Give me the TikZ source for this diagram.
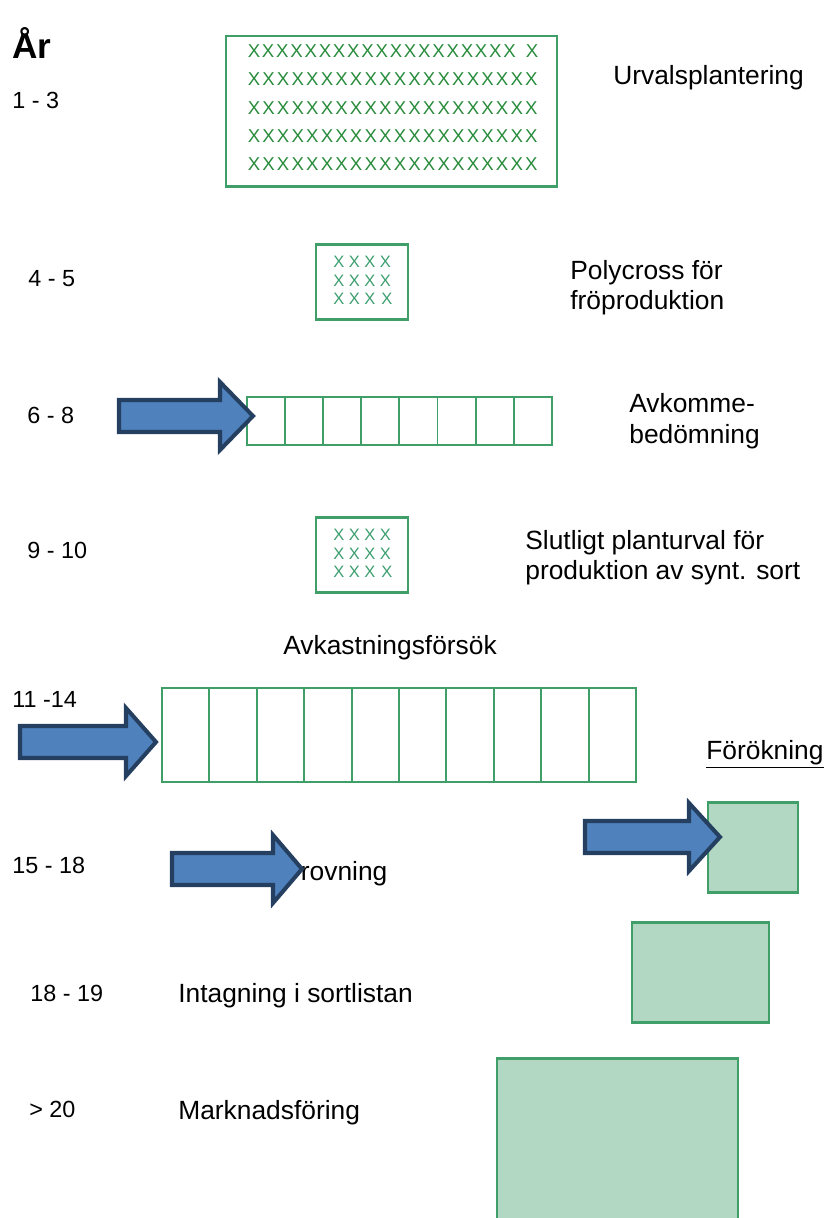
\documentclass[tikz,border=0pt]{standalone}
\usepackage{fontspec}
\setmainfont{Liberation Sans}
\usetikzlibrary{positioning}
\definecolor{boxgreen}{RGB}{64,158,104}
\definecolor{xgreen}{RGB}{40,140,60}
\definecolor{lightx}{RGB}{60,158,110}
\definecolor{plotfill}{RGB}{178,216,196}
\definecolor{arrowblue}{RGB}{79,129,189}
\definecolor{arrowline}{RGB}{36,63,96}
\tikzset{yearlbl/.style={font=\fontsize{13.3}{16}\selectfont,anchor=base west,inner sep=0pt},
	 desc/.style={font=\fontsize{15}{18}\selectfont,anchor=base west,inner sep=0pt},
	 plot/.style={draw=boxgreen,line width=1.7pt},
	 cell/.style={draw=boxgreen,line width=1.1pt},
	 bigx/.style={text=xgreen,font=\fontsize{10.6}{11}\selectfont,inner sep=0pt},
	 smallx/.style={text=lightx,font=\fontsize{9.4}{10}\selectfont,inner sep=0pt},
	 bluearrow/.style={draw=arrowline,fill=arrowblue,line width=2.3pt,line join=miter}
	 }
% block arrow: tail x, tip x, tip y, head base x
\newcommand{\bigarrow}[4]{%
  \draw[bluearrow] (#1,#3-16) -- (#4,#3-16) -- (#4,#3-34) -- (#2,#3)
    -- (#4,#3+34) -- (#4,#3+16) -- (#1,#3+16) -- cycle;}

\begin{document}
\begin{tikzpicture}[x=0.02cm,y=-0.02cm] % breeding scheme
	\useasboundingbox (0,0) rectangle (825,1218);
	\node[anchor=base west,inner sep=0pt,font=\fontsize{20}{24}\selectfont\bfseries] (ar) at (12,58) {År};
	% year labels
	\node[yearlbl] (y1) at (12,108) {1 - 3};
	\node[yearlbl] (y2) at (28,286) {4 - 5};
	\node[yearlbl] (y3) at (27,423) {6 - 8};
	\node[yearlbl] (y4) at (27,558) {9 - 10};
	\node[yearlbl] (y5) at (12,707) {11 -14};
	\node[yearlbl] (y6) at (12,873) {15 - 18};
	\node[yearlbl] (y7) at (30,1001) {18 - 19};
	\node[yearlbl] (y8) at (29,1117) {> 20};
	% descriptions
	\node[desc] (urval) at (613,84) {Urvalsplantering};
	\node[desc] (polyA) at (570,279) {Polycross för};
	\node[desc] (polyB) at (570,309) {fröproduktion};
	\node[desc] (avkA) at (629,412) {Avkomme-};
	\node[desc] (avkB) at (629,443) {bedömning};
	\node[desc] (slutA) at (525,549) {Slutligt planturval för};
	\node[desc] (slutB) at (525,579) {produktion av synt. sort};
	\node[desc] (avkast) at (283,654) {Avkastningsförsök};
	\node[desc] (forok) at (706,759) {\underline{Förökning}};
	\node[desc] (prov) at (283,880) {Provning};
	\node[desc] (intag) at (178,1002) {Intagning i sortlistan};
	\node[desc] (mark) at (178,1119) {Marknadsföring};
	% selection plot
	\draw[plot] (226,36) rectangle (557,186);
	\foreach \c in {0,...,18}
	  \node[bigx] at (254+\c*14.2,51) {X};
	\node[bigx] at (532,51) {X};
	\foreach \r in {1,...,4}
	  \foreach \c in {0,...,19}
	    \node[bigx] at (254+\c*14.6,51+\r*28.3) {X};
	% polycross plots
	\foreach \y in {244,517} {
	  \draw[plot] (316,\y) rectangle (408,\y+75);
	  \foreach \r in {0,1}
	    \foreach \c in {0,...,3}
	      \node[smallx] at (339+\c*15.5,\y+18+\r*18.5) {X};
	  \foreach \c in {0,1,2}
	    \node[smallx] at (339+\c*15.5,\y+55) {X};
	  \node[smallx] at (387,\y+55) {X};
	}
	% progeny rows
	\foreach \i in {0,...,7}
	  \draw[cell] (247+\i*38.1,397) rectangle ++(38.1,48);
	\foreach \i in {0,...,9}
	  \draw[cell] (162+\i*47.4,688) rectangle ++(47.4,94);
	% multiplication plots
	\draw[plot,fill=plotfill] (708,802) rectangle (798,892);
	\draw[plot,fill=plotfill] (632,922) rectangle (769,1022);
	\fill[plotfill] (497,1058) rectangle (738,1218);
	\draw[plot] (497,1220) -- (497,1058) -- (738,1058) -- (738,1220);
	% arrows
	\bigarrow{119}{253}{416}{220}
	\bigarrow{20}{156}{742}{126}
	\bigarrow{585}{720}{837}{689}
	\bigarrow{172}{302}{869}{273}
\end{tikzpicture}
\end{document}
